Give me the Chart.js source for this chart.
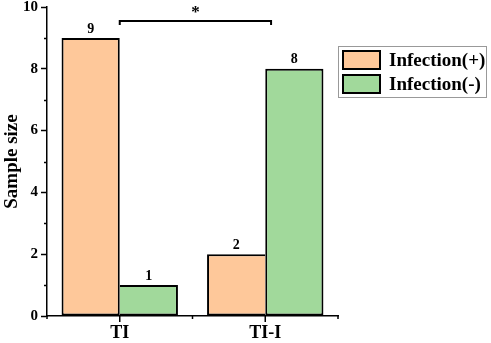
<!DOCTYPE html>
<html><head><meta charset="utf-8">
<script src="https://cdn.jsdelivr.net/npm/chart.js@4"></script>
<style>html,body{margin:0;padding:0;background:#fff}#wrap{width:491px;height:343px}</style>
</head><body><div id="wrap"><canvas id="c" width="491" height="343"></canvas></div>
<script>
const categories = ['TI', 'TI-I'];
const infectionPos = [9, 2];
const infectionNeg = [1, 8];
const seriesLabels = ['Infection(+)', 'Infection(-)'];
const yTicks = [0, 2, 4, 6, 8, 10];
const sigFrom = 0;      // category index
const sigTo = 1.04;     // category index
const sigLevel = 9.55;  // y value
const sigLabel = '*';

const FONT = '"Liberation Serif", "Times New Roman", serif';
const colors = ['#FEC89A', '#A1D99B'];

const extras = {
  id: 'extras',
  afterDraw(chart) {
    const ctx = chart.ctx, x = chart.scales.x, y = chart.scales.y, ca = chart.chartArea;
    ctx.save();
    ctx.strokeStyle = '#000'; ctx.lineWidth = 1.5;
    for (let v = 1; v < 10; v += 2) {
      const py = Math.round(y.getPixelForValue(v)) + 0.5;
      ctx.beginPath(); ctx.moveTo(ca.left - 3, py); ctx.lineTo(ca.left, py); ctx.stroke();
    }
    categories.forEach((c, i) => {
      const px = x.getPixelForValue(i);
      ctx.beginPath(); ctx.moveTo(px, ca.bottom); ctx.lineTo(px, ca.bottom + 6); ctx.stroke();
    });
    for (let i = 0; i <= categories.length; i++) {
      const px = x.getPixelForValue(i - 0.5);
      ctx.beginPath(); ctx.moveTo(px, ca.bottom); ctx.lineTo(px, ca.bottom + 3); ctx.stroke();
    }
    ctx.fillStyle = '#000';
    ctx.font = 'bold 14px ' + FONT;
    ctx.textAlign = 'center'; ctx.textBaseline = 'bottom';
    chart.data.datasets.forEach((ds, di) => {
      const meta = chart.getDatasetMeta(di);
      meta.data.forEach((bar, i) => {
        ctx.fillText(String(ds.data[i]), bar.x, bar.y - 2);
      });
    });
    const x1 = x.getPixelForValue(sigFrom), x2 = x.getPixelForValue(sigTo), by = y.getPixelForValue(sigLevel);
    ctx.lineWidth = 2;
    ctx.beginPath();
    ctx.moveTo(x1, by + 4); ctx.lineTo(x1, by); ctx.lineTo(x2, by); ctx.lineTo(x2, by + 4);
    ctx.stroke();
    ctx.font = 'bold 17px ' + FONT;
    ctx.textBaseline = 'middle';
    ctx.fillText(sigLabel, (x1 + x2) / 2, by - 8);
    const lx = 338, ly = 46, lw = 149, lh = 52;
    ctx.fillStyle = '#fff';
    ctx.fillRect(lx, ly, lw, lh);
    ctx.strokeStyle = '#999'; ctx.lineWidth = 1;
    ctx.strokeRect(lx + 0.5, ly + 0.5, lw - 1, lh - 1);
    chart.data.datasets.forEach((ds, di) => {
      const sy = ly + 5 + di * 24;
      ctx.fillStyle = ds.backgroundColor;
      ctx.fillRect(lx + 5, sy, 37, 18);
      ctx.strokeStyle = '#000'; ctx.lineWidth = 2;
      ctx.strokeRect(lx + 5, sy, 37, 18);
      ctx.fillStyle = '#000';
      ctx.font = 'bold 19px ' + FONT;
      ctx.textAlign = 'left'; ctx.textBaseline = 'middle';
      ctx.fillText(ds.label, lx + 51, sy + 10);
    });
    ctx.restore();
  }
};

function sideBorders(ctx, own, other, sharedSide) {
  const i = ctx.dataIndex;
  const b = { top: 2, bottom: 2, left: 2, right: 2 };
  if (own[i] < other[i]) b[sharedSide] = 0;
  return b;
}

new Chart(document.getElementById('c'), {
  type: 'bar',
  data: {
    labels: categories,
    datasets: [
      { label: seriesLabels[0], data: infectionPos, backgroundColor: colors[0], borderColor: '#000',
        borderWidth: c => sideBorders(c, infectionPos, infectionNeg, 'right'), borderSkipped: false },
      { label: seriesLabels[1], data: infectionNeg, backgroundColor: colors[1], borderColor: '#000',
        borderWidth: c => sideBorders(c, infectionNeg, infectionPos, 'left'), borderSkipped: false }
    ]
  },
  options: {
    responsive: false,
    animation: false,
    devicePixelRatio: 1,
    layout: { padding: { top: 7, right: 153, left: 0, bottom: 0 } },
    datasets: { bar: { categoryPercentage: 0.8, barPercentage: 1 } },
    plugins: { legend: { display: false }, tooltip: { enabled: false } },
    scales: {
      x: {
        grid: { display: true, drawOnChartArea: false, color: 'rgba(0,0,0,0)', tickLength: 6 },
        border: { display: true, color: '#000', width: 1.5 },
        ticks: { color: '#000', font: { family: FONT, size: 18, weight: 'bold' }, padding: 1 },
        afterFit(s) { s.height = 27; s.paddingLeft = 0; s.paddingRight = 0; }
      },
      y: {
        min: 0, max: 10,
        afterBuildTicks(s) { s.ticks = yTicks.map(v => ({ value: v })); },
        grid: { display: true, drawOnChartArea: false, color: '#000', tickLength: 6, tickWidth: 1.5 },
        border: { display: true, color: '#000', width: 1.5 },
        ticks: { color: '#000', font: { family: FONT, size: 15, weight: 'bold' }, padding: 3 },
        title: { display: true, text: 'Sample size', color: '#000', font: { family: FONT, size: 19, weight: 'bold' }, padding: { top: 1, bottom: 0 } },
        afterFit(s) { s.width = 47; s.paddingTop = 0; s.paddingBottom = 0; }
      }
    }
  },
  plugins: [extras]
});
</script>
</body></html>
